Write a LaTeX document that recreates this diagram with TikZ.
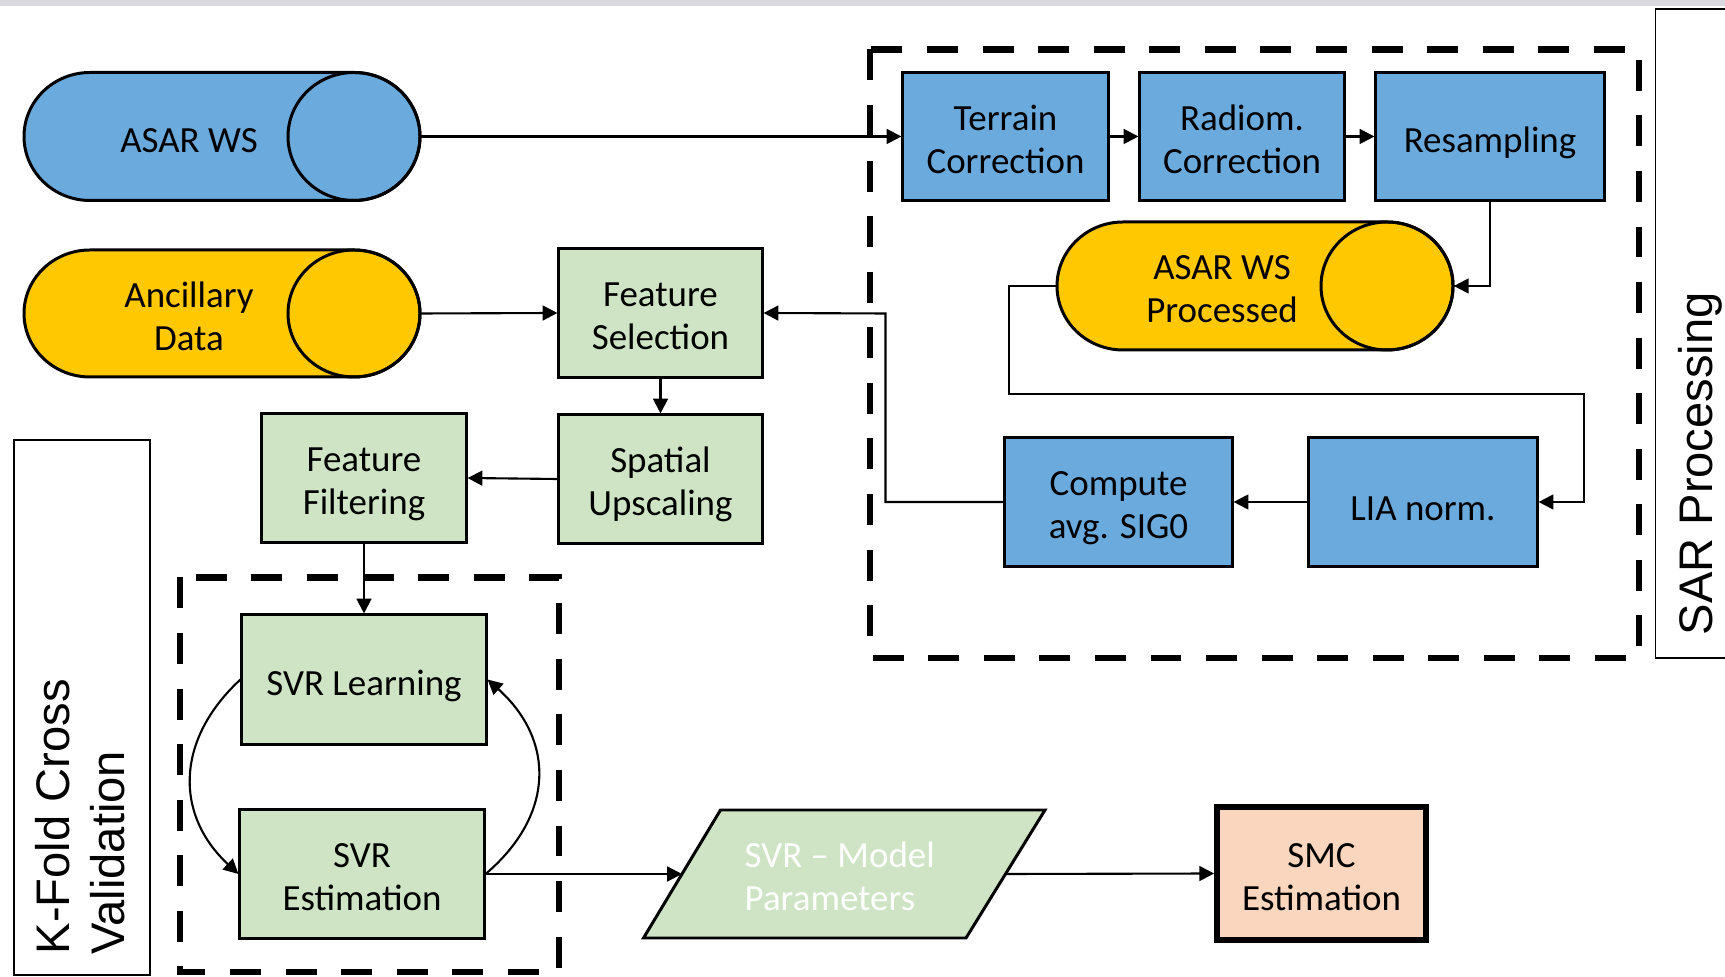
\documentclass[tikz,border=0pt]{standalone}
\usepackage{fontspec}
\setmainfont{Carlito}
\newfontfamily\arialf{Liberation Sans}
\usetikzlibrary{arrows.meta}
\definecolor{sarblue}{RGB}{106,170,220}
\definecolor{goldy}{RGB}{255,200,0}
\definecolor{lgreen}{RGB}{207,228,196}
\definecolor{peach}{RGB}{249,214,189}
\definecolor{topgray}{RGB}{216,216,222}
\newcommand\cylshape[6]{%
  \draw[line width=0.85pt, fill=#6] (#1,#3+#5) -- (#2,#3+#5) arc[start angle=90,end angle=-90,x radius=#4,y radius=#5] -- (#1,#3-#5) arc[start angle=270,end angle=90,x radius=#4,y radius=#5] -- cycle;
  \draw[line width=0.85pt] (#2,#3) ellipse [x radius=#4, y radius=#5];}
\newcommand\dn[2][1.9pt]{\raisebox{-#1}[\height][\depth]{\begin{tabular}{@{}c@{}}#2\end{tabular}}}
\begin{document}
\begin{tikzpicture}[x=0.01cm,y=0.01cm,
  txt/.style={inner sep=0, align=center, font=\fontsize{10.5}{12.2}\selectfont},
  box/.style={draw, line width=0.85pt, inner sep=0, align=center, font=\fontsize{10.5}{12.2}\selectfont},
  lower/.style={execute at begin node={\rule{0pt}{#1}}},
  lower/.default=11pt,
  bluebox/.style={box, fill=sarblue},
  greenbox/.style={box, fill=lgreen},
  cylarea/.style={inner sep=0, minimum width=3.96cm, minimum height=1.28cm},
  arr/.style={-{Triangle[length=4.2pt,width=4.2pt]}, line width=0.6pt},
  dashbox/.style={line width=1.8pt, dash pattern=on 8.8pt off 7pt},
  thinbox/.style={line width=0.5pt}]
\useasboundingbox (0,0) rectangle (1725,-977);
\clip (0,0) rectangle (1725,-977);
\fill[topgray] (0,0) rectangle (1725,-6);

% group frames
\draw[dashbox] (870,-49.5) rectangle (1639,-658);
\draw[dashbox] (180,-577.5) rectangle (559,-972);
\draw[thinbox] (1740,-9) -- (1655.5,-9) -- (1655.5,-658) -- (1740,-658);
\node[rotate=90, anchor=base west, inner sep=0, font=\arialf\fontsize{13.4}{15.6}\selectfont] (sarlbl) at (1712,-636) {SAR Processing};
\node[draw, thinbox, inner sep=0, minimum width=1.36cm, minimum height=5.35cm] (kbox) at (82,-707.5) {};
\node[rotate=90, anchor=north west, inner sep=0, align=left, font=\arialf\fontsize{13.4}{15.6}\selectfont] (kfold) at (35,-955) {K-Fold Cross\\Validation};

% cylinders
\cylshape{90}{354}{-136.5}{66}{64}{sarblue}
\node[cylarea] (asar) at (222,-136.5) {};
\node[txt] (asartx) at (189,-141) {ASAR WS};
\cylshape{90}{354}{-313.5}{66}{63.5}{goldy}
\node[cylarea] (anc) at (222,-313.5) {};
\node[txt] (anctx) at (189,-316) {Ancillary\\Data};
\cylshape{1123}{1387}{-286}{66}{64}{goldy}
\node[cylarea] (proc) at (1255,-286) {};
\node[txt] (proctx) at (1222,-289) {ASAR WS\\Processed};

% SAR chain
\node[bluebox, minimum width=2.05cm, minimum height=1.27cm] (terrain) at (1005.5,-136.5) {\dn{Terrain\\Correction}};
\node[bluebox, minimum width=2.04cm, minimum height=1.27cm] (radiom) at (1242,-136.5) {\dn{Radiom.\\Correction}};
\node[bluebox, lower, minimum width=2.28cm, minimum height=1.27cm] (resamp) at (1490,-136.5) {Resampling};
\node[bluebox, lower=10.5pt, minimum width=2.28cm, minimum height=1.28cm] (lia) at (1423,-502) {LIA norm.};
\node[bluebox, minimum width=2.27cm, minimum height=1.28cm] (comp) at (1118.5,-502) {\dn{Compute\\avg. SIG0}};

% feature chain
\node[greenbox, minimum width=2.03cm, minimum height=1.28cm] (fs) at (660.5,-313) {\dn{Feature\\Selection}};
\node[greenbox, minimum width=2.04cm, minimum height=1.28cm] (sp) at (660.5,-479) {\dn{Spatial\\Upscaling}};
\node[greenbox, minimum width=2.04cm, minimum height=1.28cm] (ff) at (364,-478) {\dn{Feature\\Filtering}};
\node[greenbox, lower, minimum width=2.44cm, minimum height=1.29cm] (svrl) at (364,-679.5) {SVR Learning};
\node[greenbox, minimum width=2.44cm, minimum height=1.28cm] (svre) at (362,-874) {\dn{SVR\\Estimation}};

% model parameters (parallelogram)
\draw[line width=0.85pt, fill=lgreen] (643.5,-938) -- (720.5,-810) -- (1045,-810) -- (966,-938) -- cycle;
\node[txt, text=white, align=left, anchor=west] (par) at (744,-876.5) {SVR -- Model\\Parameters};
\coordinate (parL) at (682,-874);
\coordinate (parR) at (1005.5,-874);

\node[box, fill=peach, line width=1.6pt, minimum width=2.09cm, minimum height=1.33cm] (smc) at (1321.5,-873.5) {\dn{SMC\\Estimation}};
\draw[line width=0.5pt] ([shift={(5,-5)}]smc.north west) rectangle ([shift={(-5,5)}]smc.south east);

% connectors
\coordinate (p1) at (1009,-394);
\coordinate (p2) at (1584,-394);
\coordinate (p3) at (885.5,-313.5);
\draw[arr] (asar.east) -- (terrain.west);
\draw[arr] (terrain.east) -- (radiom.west);
\draw[arr] (radiom.east) -- (resamp.west);
\draw[arr] (resamp.south) |- (proc.east);
\draw[arr] (proc.west) -| (p1) -- (p2) |- (lia.east);
\draw[arr] (lia.west) -- (comp.east);
\draw[arr] (comp.west) -| (p3) -- (fs.east);
\draw[arr] (anc.east) -- (fs.west);
\draw[arr] (fs.south) -- (sp.north);
\draw[arr] (sp.west) -- (ff.east);
\draw[arr] (ff.south) -- (svrl.north);
\draw[arr] (svrl.west) .. controls (175,-740) and (175,-815) .. (svre.west);
\draw[arr] (svre.east) .. controls (555,-815) and (555,-740) .. (svrl.east);
\draw[arr] (svre.east) -- (parL);
\draw[arr] (parR) -- (smc.west);
\end{tikzpicture}
\end{document}
